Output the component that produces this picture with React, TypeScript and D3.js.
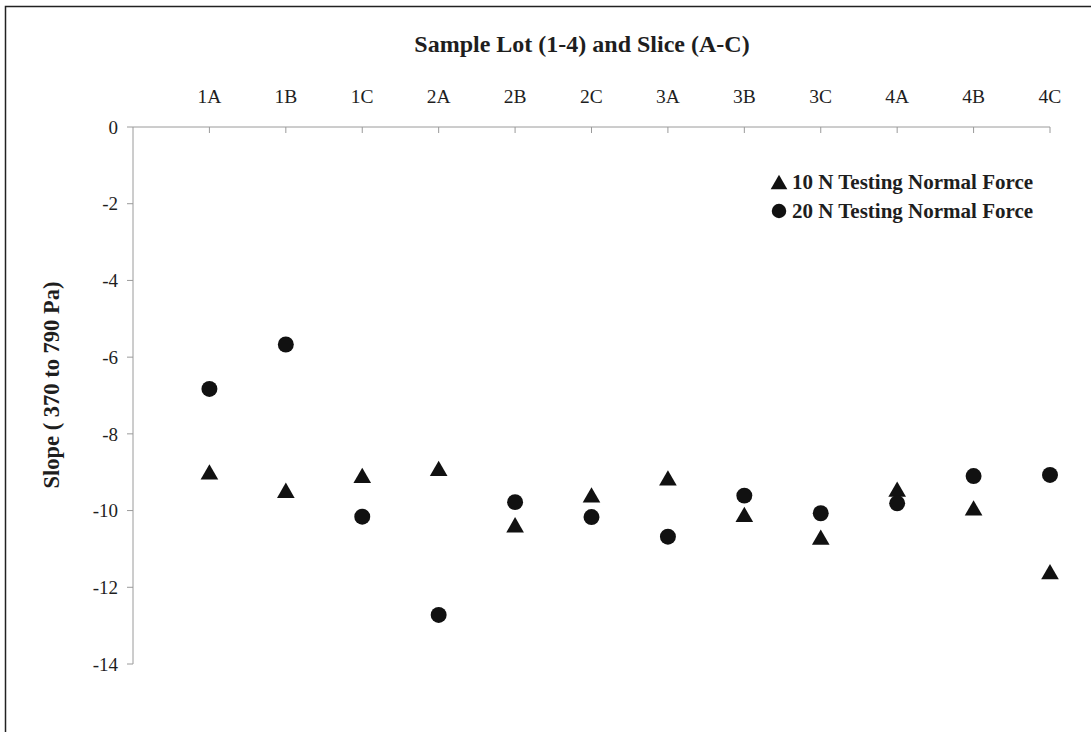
import React from "react";
import * as d3 from "d3";

const categories = ["1A", "1B", "1C", "2A", "2B", "2C", "3A", "3B", "3C", "4A", "4B", "4C"];
const force10N = [-8.99, -9.47, -9.08, -8.9, -10.37, -9.59, -9.15, -10.1, -10.69, -9.44, -9.93, -11.59];
const force20N = [-6.83, -5.67, -10.16, -12.72, -9.78, -10.17, -10.68, -9.61, -10.07, -9.81, -9.1, -9.07];
const yTicks = [0, -2, -4, -6, -8, -10, -12, -14];
const seriesNames = ["10 N Testing Normal Force", "20 N Testing Normal Force"];

const W = 1091;
const H = 732;
const FONT = "'Liberation Serif', 'Times New Roman', serif";

// bbox-centred upward triangle
const bboxTriangle = {
  draw(ctx: any, size: number) {
    const s = Math.sqrt((size * 4) / Math.sqrt(3));
    const h = (s * Math.sqrt(3)) / 2;
    ctx.moveTo(0, -h / 2);
    ctx.lineTo(s / 2, h / 2);
    ctx.lineTo(-s / 2, h / 2);
    ctx.closePath();
  },
};

export default function App() {
  const x = d3.scaleLinear().domain([0, categories.length]).range([133, 1050]);
  const y = d3.scaleLinear().domain([0, -14]).range([127, 664]);
  const tri = d3.symbol(bboxTriangle as any, 135)() as string;
  const circ = d3.symbol(d3.symbolCircle, 200)() as string;
  const axisColor = "#9a9a9a";
  const textColor = "#1e1e1e";

  return (
    <svg width={W} height={H} style={{ position: "absolute", left: 0, top: 0, background: "#fff" }} fontFamily={FONT}>
      <rect x={5.5} y={6.5} width={W + 20} height={H + 20} fill="#fff" stroke="#222" strokeWidth={1.5} />
      <text x={582} y={52} textAnchor="middle" fontSize={24} fontWeight="bold" fill={textColor}>
        Sample Lot (1-4) and Slice (A-C)
      </text>
      {/* top x axis */}
      <line x1={x(0)} x2={x(categories.length)} y1={y(0)} y2={y(0)} stroke={axisColor} strokeWidth={1} />
      {categories.map((c, i) => (
        <g key={c}>
          <line x1={x(i + 1)} x2={x(i + 1)} y1={y(0)} y2={y(0) + 6} stroke={axisColor} />
          <text x={x(i + 1)} y={103} textAnchor="middle" fontSize={19.5} fill={textColor}>
            {c}
          </text>
        </g>
      ))}
      {/* y axis */}
      <line x1={x(0)} x2={x(0)} y1={y(0)} y2={y(-14)} stroke={axisColor} strokeWidth={1} />
      {yTicks.map((t) => (
        <g key={t}>
          <line x1={x(0) - 6} x2={x(0)} y1={y(t)} y2={y(t)} stroke={axisColor} />
          <text x={118} y={y(t)} dy="0.35em" textAnchor="end" fontSize={19} fill={textColor}>
            {t}
          </text>
        </g>
      ))}
      <text
        transform={`translate(59, 385) rotate(-90)`}
        textAnchor="middle"
        fontSize={22.5}
        fontWeight="bold"
        fill={textColor}
      >
        Slope ( 370 to 790 Pa)
      </text>
      {/* data */}
      {force10N.map((v, i) => (
        <path key={"t" + i} d={tri} transform={`translate(${x(i + 1)},${y(v)})`} fill="#111" />
      ))}
      {force20N.map((v, i) => (
        <path key={"c" + i} d={circ} transform={`translate(${x(i + 1)},${y(v)})`} fill="#111" />
      ))}
      {/* legend */}
      <g>
        <path d={d3.symbol(bboxTriangle as any, 120)() as string} transform="translate(779,182)" fill="#111" />
        <text x={792} y={182} dy="0.35em" fontSize={21} fontWeight="bold" fill={textColor}>
          {seriesNames[0]}
        </text>
        <path d={d3.symbol(d3.symbolCircle, 165)() as string} transform="translate(779,211)" fill="#111" />
        <text x={792} y={211} dy="0.35em" fontSize={21} fontWeight="bold" fill={textColor}>
          {seriesNames[1]}
        </text>
      </g>
    </svg>
  );
}
